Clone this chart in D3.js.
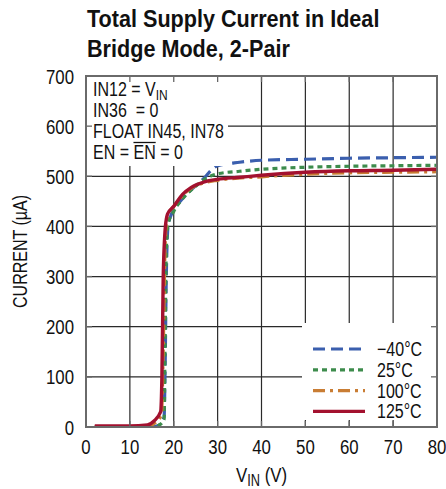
<!DOCTYPE html>
<html>
<head>
<meta charset="utf-8">
<script src="https://cdn.jsdelivr.net/npm/d3@7"></script>
<style>
  html, body { margin: 0; padding: 0; background: #fff; }
  svg { display: block; }
  text { font-family: "Liberation Sans", Arial, sans-serif; fill: #111; white-space: pre; }
</style>
</head>
<body>
<div id="chart"></div>
<script>
// Supply current vs input voltage, one curve per temperature
const xTicks = [0, 10, 20, 30, 40, 50, 60, 70, 80];
const yTicks = [0, 100, 200, 300, 400, 500, 600, 700];

const seriesNames = ["\u221240\u00B0C", "25\u00B0C", "100\u00B0C", "125\u00B0C"];

// [V_IN (V), current (µA)]
const curveM40 = [[2,0],[10,0],[15,0],[16.5,3],[17.8,20],[18,100],[18.3,300],[18.7,400],[19.5,425],[21,445],[23,465],[25,481],[27,497],[28.5,512],[30,521],[35,528],[40,532],[50,534],[60,536],[70,537],[80,538]];
const curve25 = [[2,0],[10,0],[15,0],[16.5,3],[17.8,15],[18,150],[18.3,350],[18.7,405],[20,430],[22,455],[25,480],[28,499],[30,505],[35,510],[40,514],[50,518],[60,520],[70,521],[80,522]];
const curve100 = [[2,1],[10,1],[14,2],[16,10],[17.2,25],[17.6,150],[18,350],[18.5,420],[20,440],[23,470],[27,487],[30,492],[40,499],[50,504],[60,507],[70,508],[80,509]];
const curve125 = [[2,2],[10,2],[14,4],[15.5,12],[17,30],[17.3,100],[17.6,300],[18.1,400],[18.6,425],[20,440],[22,464],[24,478],[27,489],[30,494],[35,498],[40,502],[50,508],[60,511],[70,512],[80,514]];

const notes = ["IN36  = 0", "FLOAT IN45, IN78"];

const W = 446, H = 489;
const m = { left: 86, right: 9, top: 76, bottom: 62 };
const pw = W - m.left - m.right, ph = H - m.top - m.bottom;

const x = d3.scaleLinear().domain([0, 80]).range([0, pw]);
const y = d3.scaleLinear().domain([0, 700]).range([ph, 0]);

const svg = d3.select("#chart").append("svg").attr("width", W).attr("height", H);

// Condensed text: a horizontally squeezed group holding one text element
const SX = 0.8;
function ctext(parent, tx, ty, size, anchor = "start", sx = SX, rot = 0) {
  return parent.append("g")
    .attr("transform", `translate(${tx},${ty}) rotate(${rot}) scale(${sx},1)`)
    .append("text").attr("text-anchor", anchor).style("font-size", size + "px");
}

// Title
ctext(svg, 87, 27, 24, "start", 0.9).style("font-weight", "bold").text("Total Supply Current in Ideal");
ctext(svg, 87, 57, 24, "start", 0.9).style("font-weight", "bold").text("Bridge Mode, 2-Pair");

const g = svg.append("g").attr("transform", `translate(${m.left},${m.top})`);

// Grid
g.append("g").selectAll("line").data(xTicks.slice(1, -1)).join("line")
  .attr("x1", d => x(d)).attr("x2", d => x(d)).attr("y1", 0).attr("y2", ph)
  .attr("stroke", "#2a2a2a").attr("stroke-width", 1.2);
g.append("g").selectAll("line").data(yTicks.slice(1, -1)).join("line")
  .attr("y1", d => y(d)).attr("y2", d => y(d)).attr("x1", 0).attr("x2", pw)
  .attr("stroke", "#2a2a2a").attr("stroke-width", 1.2);

// Curves
const styles = [
  { data: curveM40, color: "#3b5fae", dash: "12,6", width: 3.2 },
  { data: curve25,  color: "#3d8c4c", dash: "5,4",  width: 3.2 },
  { data: curve100, color: "#c97d34", dash: "12,5,3,5", width: 3.2 },
  { data: curve125, color: "#a3112f", dash: null,  width: 3.4 }
];
const line = d3.line().x(d => x(d[0])).y(d => y(d[1])).curve(d3.curveMonotoneX);
g.append("clipPath").attr("id", "plotclip").append("rect").attr("width", pw).attr("height", ph);
const curves = g.append("g").attr("clip-path", "url(#plotclip)");
styles.forEach(s => {
  curves.append("path").datum(s.data).attr("d", line)
    .attr("fill", "none").attr("stroke", s.color).attr("stroke-width", s.width)
    .attr("stroke-dasharray", s.dash).attr("stroke-linejoin", "round");
});

// Condition box (upper left)
g.append("rect").attr("x", 0).attr("y", 0).attr("width", 142).attr("height", 90).attr("fill", "#fff");
const l1 = ctext(g, 7, 20, 20);
l1.append("tspan").text("IN12 = V");
l1.append("tspan").attr("dy", 4).style("font-size", "15px").text("IN");
notes.forEach((d, i) => ctext(g, 7, 41 + i * 21, 20).text(d));
const l4 = ctext(g, 7, 83, 20);
l4.append("tspan").text("EN = ");
l4.append("tspan").text("EN");
l4.append("tspan").text(" = 0");
// overbar on the second EN
const s0 = l4.node().getStartPositionOfChar(5).x;
const s1 = l4.node().getEndPositionOfChar(6).x;
d3.select(l4.node().parentNode).append("line")
  .attr("x1", s0).attr("x2", s1).attr("y1", -16.5).attr("y2", -16.5)
  .attr("stroke", "#111").attr("stroke-width", 1.3);

// Legend box (lower right)
const lx = x(80) - 135, ly = y(0) - 104;
g.append("rect").attr("x", lx).attr("y", ly).attr("width", 135).attr("height", 97).attr("fill", "#fff");
const leg = g.append("g");
styles.forEach((s, i) => {
  const yy = ly + 26 + i * 20.8;
  leg.append("line").attr("x1", lx + 11).attr("x2", lx + 63).attr("y1", yy).attr("y2", yy)
    .attr("stroke", s.color).attr("stroke-width", s.width)
    .attr("stroke-dasharray", s.dash);
  ctext(leg, lx + 75, yy + 7, 20).text(seriesNames[i]);
});

// Frame and inward ticks
const tl = 6;
const ticks = g.append("g").attr("stroke", "#666").attr("stroke-width", 1.3);
xTicks.slice(1, -1).forEach(d => {
  ticks.append("line").attr("x1", x(d)).attr("x2", x(d)).attr("y1", ph).attr("y2", ph - tl);
  ticks.append("line").attr("x1", x(d)).attr("x2", x(d)).attr("y1", 0).attr("y2", tl);
});
yTicks.slice(1, -1).forEach(d => {
  ticks.append("line").attr("y1", y(d)).attr("y2", y(d)).attr("x1", 0).attr("x2", tl);
  ticks.append("line").attr("y1", y(d)).attr("y2", y(d)).attr("x1", pw).attr("x2", pw - tl);
});
g.append("rect").attr("width", pw).attr("height", ph).attr("fill", "none")
  .attr("stroke", "#6a6a6a").attr("stroke-width", 2);

// Axis tick labels
yTicks.forEach(d => ctext(g, -12, y(d) + 7.5, 21, "end").text(d));
xTicks.forEach(d => ctext(g, x(d), ph + 27, 21, "middle").text(d));

// Axis titles
ctext(svg, 27, m.top + ph / 2, 20, "middle", SX, -90).text("CURRENT (\u00B5A)");
const xt = ctext(svg, m.left + pw / 2, 482, 21, "middle");
xt.append("tspan").text("V");
xt.append("tspan").attr("dy", 4).style("font-size", "16px").text("IN");
xt.append("tspan").attr("dy", -4).text(" (V)");
</script>
</body>
</html>
